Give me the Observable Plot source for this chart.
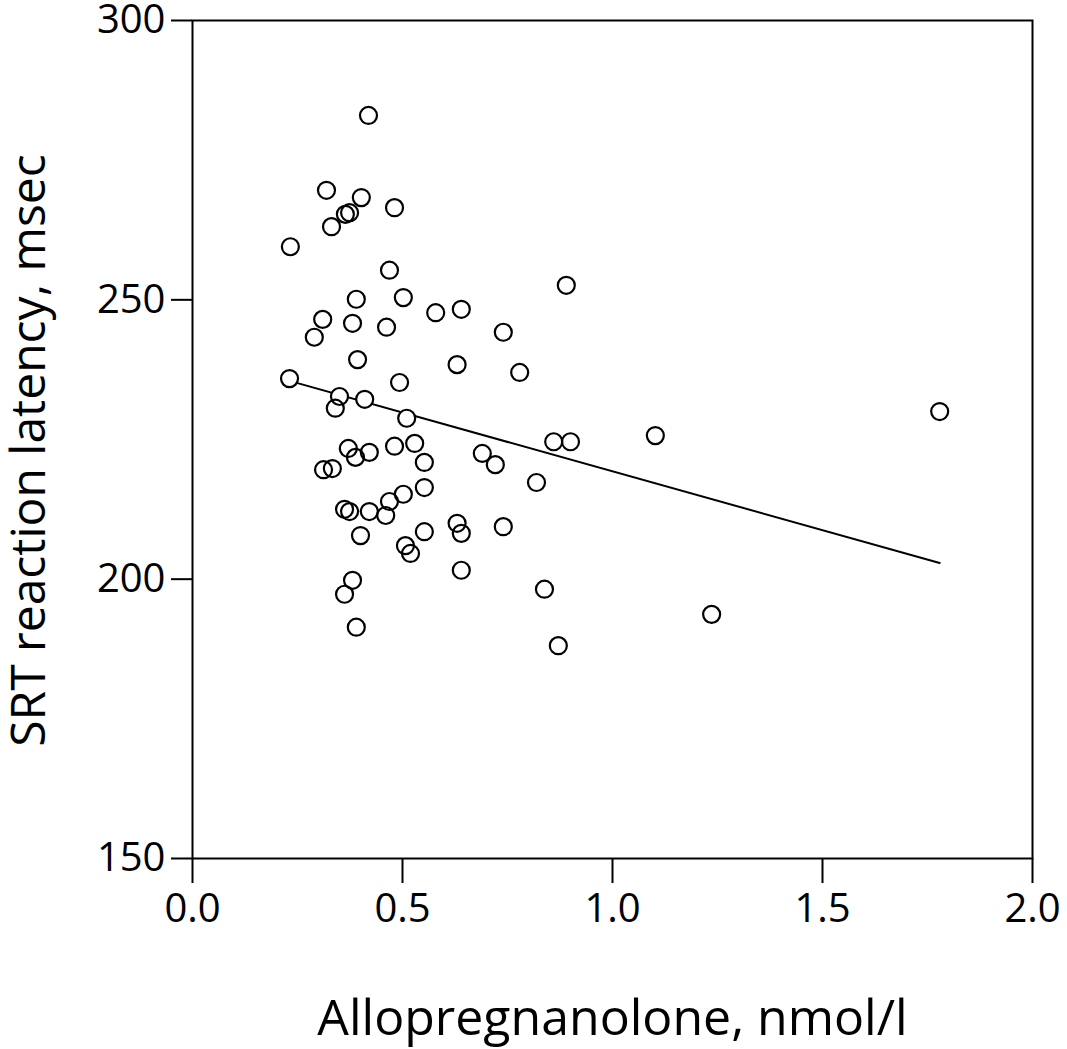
<!DOCTYPE html>
<html>
<head>
<meta charset="utf-8">
<script src="https://cdn.jsdelivr.net/npm/d3@7"></script>
<script src="https://cdn.jsdelivr.net/npm/@observablehq/plot@0.6"></script>
<style>
  html, body { margin: 0; padding: 0; background: #fff; }
  #chart { width: 1067px; height: 1049px; }
</style>
</head>
<body>
<div id="chart"></div>
<script>
// Allopregnanolone (nmol/l)
const allo = [
  0.233, 0.231, 0.419, 0.319, 0.402, 0.481, 0.331, 0.364, 0.374, 0.469,
  0.390, 0.502, 0.890, 0.310, 0.290, 0.381, 0.462, 0.579, 0.640, 0.740,
  0.393, 0.630, 0.779, 0.493, 0.350, 0.340, 0.410, 0.510, 1.779, 1.102,
  0.860, 0.900, 0.371, 0.421, 0.388, 0.481, 0.529, 0.312, 0.333, 0.552,
  0.690, 0.721, 0.552, 0.819, 0.502, 0.469, 0.362, 0.374, 0.421, 0.460,
  0.630, 0.640, 0.740, 0.552, 0.400, 0.507, 0.519, 0.640, 0.381, 0.362,
  0.838, 0.390, 0.871, 1.236
];
// SRT reaction latency (msec)
const srt = [
  259.5, 235.9, 283.0, 269.6, 268.3, 266.5, 263.1, 265.3, 265.6, 255.3,
  250.1, 250.4, 252.6, 246.5, 243.3, 245.8, 245.1, 247.7, 248.3, 244.2,
  239.3, 238.4, 237.0, 235.2, 232.7, 230.6, 232.2, 228.8, 230.0, 225.7,
  224.6, 224.6, 223.4, 222.7, 221.8, 223.8, 224.3, 219.6, 219.8, 220.9,
  222.5, 220.5, 216.4, 217.3, 215.2, 213.9, 212.5, 212.1, 212.1, 211.4,
  210.0, 208.2, 209.4, 208.5, 207.8, 206.0, 204.6, 201.6, 199.8, 197.3,
  198.2, 191.4, 188.1, 193.7
];
// Regression line endpoints
const fitX = [0.231, 1.779];
const fitY = [235.5, 202.9];

const xTicks = [0, 0.5, 1.0, 1.5, 2.0];
const yTicks = [150, 200, 250, 300];
const xLabel = "Allopregnanolone, nmol/l";
const yLabel = "SRT reaction latency, msec";

const points = allo.map((x, i) => ({x, y: srt[i]}));
const fit = fitX.map((x, i) => ({x, y: fitY[i]}));

const chart = Plot.plot({
  width: 1067,
  height: 1049,
  marginLeft: 192,
  marginRight: 35,
  marginTop: 20,
  marginBottom: 191,
  style: {fontFamily: "'Open Sans', sans-serif", fontSize: "40px", color: "#000", background: "#fff", overflow: "visible"},
  x: {domain: [0, 2], ticks: xTicks, tickFormat: d3.format(".1f")},
  y: {domain: [150, 300], ticks: yTicks},
  marks: [
    Plot.axisY({ticks: yTicks, tickSize: 21, tickPadding: 6, strokeWidth: 2, label: null, fontSize: 40}),
    Plot.axisX({ticks: xTicks, tickSize: 25, tickPadding: 10, strokeWidth: 2, label: null, fontSize: 40, tickFormat: d3.format(".1f")}),
    Plot.frame({stroke: "#000", strokeWidth: 2}),
    Plot.line(fit, {x: "x", y: "y", stroke: "#000", strokeWidth: 2}),
    Plot.dot(points, {x: "x", y: "y", r: 8.5, fill: "#fff", stroke: "none"}),
    Plot.dot(points, {x: "x", y: "y", r: 8.5, fill: "none", stroke: "#000", strokeWidth: 2.2}),
    Plot.text([xLabel], {text: d => d, frameAnchor: "bottom", textAnchor: "middle", dy: 176, fontSize: 50, lineAnchor: "bottom"}),
    Plot.text([yLabel], {text: d => d, frameAnchor: "left", textAnchor: "middle", dx: -163, dy: 11, rotate: -90, fontSize: 48, lineAnchor: "middle"})
  ]
});
document.getElementById("chart").appendChild(chart);
</script>
</body>
</html>
